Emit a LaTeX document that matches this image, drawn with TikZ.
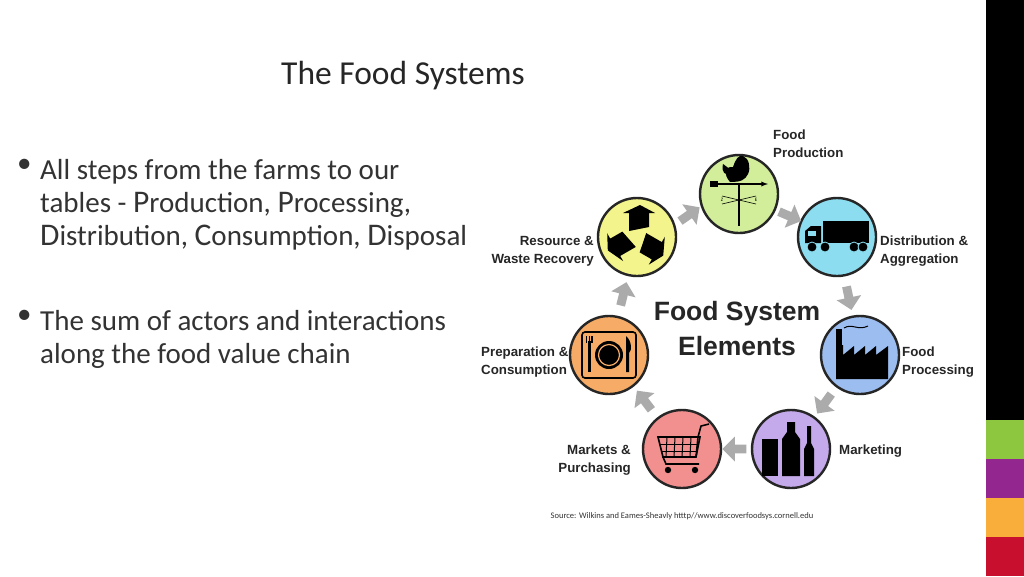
\documentclass[tikz,border=0pt]{standalone}
\usepackage{fontspec}
\setmainfont{Carlito}
\newfontfamily\arial{Liberation Sans}
\usetikzlibrary{shapes.arrows,calc}
\definecolor{cprod}{HTML}{D2EE9A}
\definecolor{cres}{HTML}{F4F48C}
\definecolor{cdist}{HTML}{8CDDF0}
\definecolor{cproc}{HTML}{9CBDF0}
\definecolor{cmark}{HTML}{C4AAEA}
\definecolor{cmkts}{HTML}{F29090}
\definecolor{cprep}{HTML}{F6AC66}
\definecolor{bgreen}{HTML}{8DC63F}
\definecolor{bpurple}{HTML}{93268F}
\definecolor{borange}{HTML}{F9AE3B}
\definecolor{bred}{HTML}{C8102E}
\tikzset{
 elem/.style={circle,draw=black!85,line width=2.4pt,minimum size=78pt,inner sep=0pt},
 lbl/.style={font=\arial\bfseries\fontsize{13.3}{18}\selectfont,align=left,inner sep=0pt,text=black!85},
 garrow/.style={single arrow,fill=black!33,draw=none,minimum height=24pt,minimum width=25pt,single arrow head extend=4pt,inner sep=2pt},
 btxt/.style={font=\fontsize{29}{33}\selectfont,align=left,anchor=north west,inner sep=0pt,text=black!80}
}
\newcommand{\capL}[1]{{\fontsize{31.5}{33}\selectfont #1}}
\begin{document}
\begin{tikzpicture}[x=1pt,y=-1pt]
\useasboundingbox (0,0) rectangle (1024,576);
\fill[white] (0,0) rectangle (1024,576);
% right bar
\fill[black] (986,0) rectangle (1024,420);
\fill[bgreen] (986,420) rectangle (1024,459);
\fill[bpurple] (986,459) rectangle (1024,498);
\fill[borange] (986,498) rectangle (1024,537);
\fill[bred] (986,537) rectangle (1024,576);
% title
\node[font=\fontsize{33.5}{36}\selectfont,text=black!85] (title) at (403,76) {The Food Systems};
% bullets
\node[btxt] (b1) at (17,159) {\textbullet};
\node[btxt] (t1) at (40,159) {All steps from the farms to our\\tables - \capL{P}roduction, \capL{P}rocessing,\\\capL{D}istribution, \capL{C}onsumption, \capL{D}isposal};
\node[btxt] (b2) at (17,310) {\textbullet};
\node[btxt] (t2) at (40,310) {The sum of actors and interactions\\along the food value chain};
% circles
\node[elem,fill=cprod] (prod) at (739,194) {};
\node[elem,fill=cdist] (dist) at (837,237) {};
\node[elem,fill=cproc] (proc) at (860,355) {};
\node[elem,fill=cmark] (mark) at (791,449) {};
\node[elem,fill=cmkts] (mkts) at (682,449) {};
\node[elem,fill=cprep] (prep) at (609,355) {};
\node[elem,fill=cres] (res) at (637,237) {};
% arrows
\node[garrow,rotate=-23] (a1) at ($(prod)!0.5!(dist)$) {};
\node[garrow,rotate=-78] (a2) at ($(dist)!0.5!(proc)$) {};
\node[garrow,rotate=-126] (a3) at ($(proc)!0.5!(mark)$) {};
\node[garrow,rotate=180] (a4) at ($(mark)!0.5!(mkts)$) {};
\node[garrow,rotate=127] (a5) at ($(mkts)!0.5!(prep)$) {};
\node[garrow,rotate=76] (a6) at ($(prep)!0.5!(res)$) {};
\node[garrow,rotate=35] (a7) at ($(res)!0.5!(prod)$) {};
% labels
\node[lbl,anchor=north west] (lprod) at (773,130) {Food\\Production};
\node[lbl,anchor=north west] (ldist) at (880,236) {Distribution \&\\Aggregation};
\node[lbl,anchor=north west] (lproc) at (902,347) {Food\\Processing};
\node[lbl,anchor=north west] (lmark) at (839,445) {Marketing};
\node[lbl,anchor=north east,align=right] (lmkts) at (631,445) {Markets \&\\Purchasing};
\node[lbl,anchor=north west] (lprep) at (481,347) {Preparation \&\\Consumption};
\node[lbl,anchor=north east,align=right] (lres) at (594,236) {Resource \&\\Waste Recovery};
\node[font=\arial\bfseries\fontsize{26.5}{35}\selectfont,align=center,text=black!85] (center) at (737,329) {Food System\\Elements};
\node[font=\fontsize{8.5}{10}\selectfont,text=black!80] (src) at (682,516) {Source: Wilkins and Eames-Sheavly htttp//www.discoverfoodsys.cornell.edu};
% icons: weathervane
\begin{scope}[shift={(prod.center)}]
\draw[line width=1.3pt] (0,-10) -- (0,32);
\draw[line width=1.3pt,-latex] (-27,-10) -- (29,-10);
\fill (-29,-13) rectangle (-21,-7);
\fill (-9,-12) .. controls (-16,-20) and (-14,-28) .. (-6,-27) .. controls (-4,-34) and (0,-40) .. (4,-38) .. controls (10,-36) and (12,-26) .. (9,-20) .. controls (6,-14) and (2,-12) .. (-9,-12) -- cycle;
\fill (-16,-30) .. controls (-18,-22) and (-14,-18) .. (-8,-20) -- (-8,-24) -- cycle;
\draw[line width=0.6pt] (-17,2) -- (17,10) (-17,10) -- (17,2);
\fill (0,6) circle (1.5);
\node[inner sep=0] at (-17,6) {\tiny Z};
\node[inner sep=0] at (17,6) {\tiny E};
\end{scope}
% truck
\begin{scope}[shift={(dist.center)}]
\fill (-14,-16) rectangle (32,6);
\fill (-32,-6) -- (-26,-11) -- (-16,-11) -- (-16,6) -- (-32,6) -- cycle;
\fill[cdist] (-29,-6) rectangle (-21,-1);
\foreach \x in {-25,-12,17,26} \filldraw[fill=black,draw=cdist,line width=0.8pt] (\x,10) circle (5);
\end{scope}
% factory
\begin{scope}[shift={(proc.center)}]
\fill (-24,24) -- (-24,-10) -- (-17,-10) -- (-17,0) -- (-6,-9) -- (-6,0) -- (5,-9) -- (5,0) -- (16,-9) -- (16,0) -- (28,-9) -- (28,24) -- cycle;
\fill (-24,-10) -- (-24,-26) -- (-18,-26) -- (-18,-10) -- cycle;
\draw[line width=1pt] (-16,-27) .. controls (-8,-32) and (-2,-24) .. (8,-29);
\end{scope}
% bottles
\begin{scope}[shift={(mark.center)}]
\fill (-29,-10) rectangle (-13,27);
\fill (-9,27) -- (-9,-10) -- (-4,-17) -- (-4,-27) -- (4,-27) -- (4,-17) -- (9,-10) -- (9,27) -- cycle;
\fill (13,27) -- (13,0) -- (16,-6) -- (16,-23) -- (20,-23) -- (20,-6) -- (23,0) -- (23,27) -- cycle;
\end{scope}
% cart
\begin{scope}[shift={(mkts.center)}]
\draw[line width=1.6pt] (-24,-12) -- (18,-12) -- (14,8) -- (-19,8) -- cycle;
\foreach \x in {-15,-7,1,9} \draw[line width=1pt] (\x,-12) -- (\x-1,8);
\draw[line width=1pt] (-22,-5) -- (17,-5) (-21,2) -- (16,2);
\draw[line width=1.6pt] (14,8) -- (16,-12) -- (19,-23) -- (27,-25);
\draw[line width=1.6pt] (-19,8) -- (-16,15) -- (17,15);
\fill (-14,21) circle (3.2) (13,21) circle (3.2);
\end{scope}
% plate
\begin{scope}[shift={(prep.center)}]
\draw[line width=1.6pt,rounded corners=3pt] (-27,-23) rectangle (27,23);
\fill (0,0) circle (14);
\draw[cprep,line width=1.2pt] (0,0) circle (10.5);
\fill (-21,-14) rectangle (-18,17);
\foreach \x in {-23,-20.3,-17.6} \fill (\x,-19) rectangle (\x+1.2,-12);
\fill (17,17) -- (17,-19) .. controls (23,-14) and (23,-4) .. (20,-2) -- (20,17) -- cycle;
\end{scope}
% recycle
\begin{scope}[shift={(res.center)}]
\foreach \r in {90,210,330}{
 \begin{scope}[rotate=\r]
 \fill (6,-8) -- (24,-8) -- (24,-14) -- (32,3) -- (24,18) -- (24,12) -- (10,12) -- cycle;
 \end{scope}}
\end{scope}
\end{tikzpicture}
\end{document}
